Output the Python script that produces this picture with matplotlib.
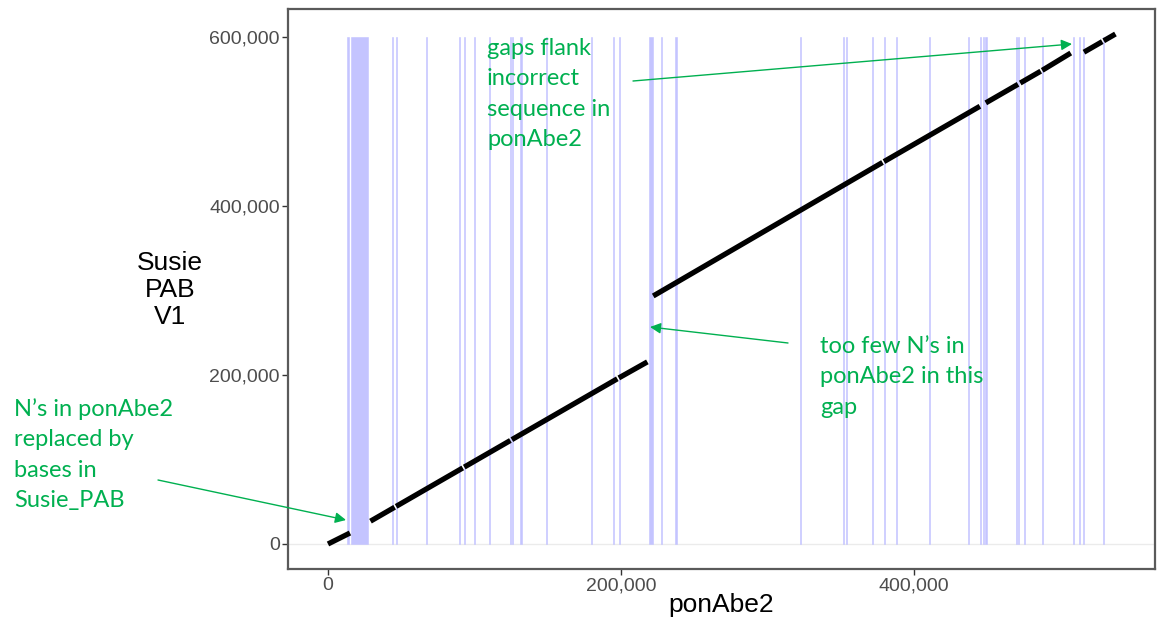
import matplotlib.pyplot as plt
from matplotlib.ticker import FuncFormatter

# gaps in ponAbe2 (start, end in bp) - drawn as blue bands
gap_start = [13200, 15700, 43700, 46200, 66600, 89200, 92600, 99400, 109600, 123900,
             125400, 131400, 148500, 179200, 194200, 198300, 219100, 227000, 237200,
             322000, 351200, 353400, 371000, 379200, 387400, 409900, 436600, 444800,
             446800, 448800, 469300, 470700, 474800, 487100, 508200, 512300, 515100, 528700]
gap_end = [14000, 27300, 44500, 47100, 67300, 89900, 93300, 100100, 110300, 124600,
           126100, 132100, 149200, 179900, 194900, 199100, 221800, 227800, 237900,
           322800, 351900, 354100, 371700, 380000, 388100, 410600, 437300, 445500,
           447500, 449500, 470000, 471400, 475500, 487800, 508900, 513000, 515800, 529400]
gap_top = 600000

# alignment blocks ponAbe2 (x) vs Susie PAB V1 (y)
blk_x0 = [0, 29000, 46500, 93000, 125500, 198500, 222000, 379500, 449000, 472500, 487500, 516000, 529500]
blk_x1 = [15000, 45500, 92000, 124500, 197500, 218000, 378500, 445000, 471000, 486500, 507000, 528500, 537500]
blk_y0 = [0, 27000, 44500, 91000, 123500, 196500, 293500, 452500, 522000, 545500, 560500, 582000, 595500]
blk_y1 = [13000, 43500, 90000, 122500, 195500, 215500, 451500, 518000, 544000, 559500, 581000, 594500, 603500]

xticks = [0, 200000, 400000]
yticks = [0, 200000, 400000, 600000]

green = "#00B050"
W, H = 1160, 628

fig = plt.figure(figsize=(W / 100, H / 100), dpi=100)
ax = fig.add_axes([288 / W, 1 - 569 / H, (1155 - 288) / W, (569 - 9) / H])

ax.axhline(0, color="#EBEBEB", lw=1, zorder=0)

for s, e in zip(gap_start, gap_end):
    ax.bar(s, gap_top, width=e - s, align="edge", color="#C4C4FF",
           edgecolor="#C4C4FF", linewidth=0.4, zorder=1)

for x0, x1, y0, y1 in zip(blk_x0, blk_x1, blk_y0, blk_y1):
    ax.plot([x0, x1], [y0, y1], color="black", lw=3.8, solid_capstyle="butt", zorder=3)

ax.set_xlim(-27300, 564500)
ax.set_ylim(-29600, 633100)
ax.set_xticks(xticks)
ax.set_yticks(yticks)
fmt = FuncFormatter(lambda v, p: f"{int(v):,}")
ax.xaxis.set_major_formatter(fmt)
ax.yaxis.set_major_formatter(fmt)
ax.tick_params(length=4, width=1, color="#333333", labelcolor="#4D4D4D",
               labelsize=14, pad=2)
for lab in ax.get_xticklabels() + ax.get_yticklabels():
    lab.set_fontfamily("Liberation Sans")
for sp in ax.spines.values():
    sp.set_color("#5A5A5A")
    sp.set_linewidth(1.6)


def fp(x, y):
    return (x, H - y)


fig.text(*fp(721, 605), "ponAbe2", transform=None, ha="center", va="center",
         fontsize=19, family="Liberation Sans")
fig.text(*fp(170, 290), "Susie\nPAB\nV1", transform=None, ha="center", va="center",
         fontsize=19, family="Liberation Sans", linespacing=1.16, multialignment="center")

notes = [
    ("gaps flank\nincorrect\nsequence in\nponAbe2", (487, 38), (633, 81), (1072, 44)),
    ("too few N\u2019s in\nponAbe2 in this\ngap", (820, 336), (788, 343), (650, 327)),
    ("N\u2019s in ponAbe2\nreplaced by\nbases in\nSusie_PAB", (14, 398), (158, 480), (346, 520)),
]
for txt, tpos, a0, a1 in notes:
    fig.text(*fp(*tpos), txt, transform=None, ha="left", va="top", color=green,
             fontsize=17, family="Lato", linespacing=1.55)
    ax.annotate("", xy=fp(*a1), xycoords="figure pixels", xytext=fp(*a0),
                textcoords="figure pixels",
                arrowprops=dict(arrowstyle="-|>", color=green, lw=1, mutation_scale=16,
                                shrinkA=0, shrinkB=0))

fig.savefig("out.png", dpi=100)
